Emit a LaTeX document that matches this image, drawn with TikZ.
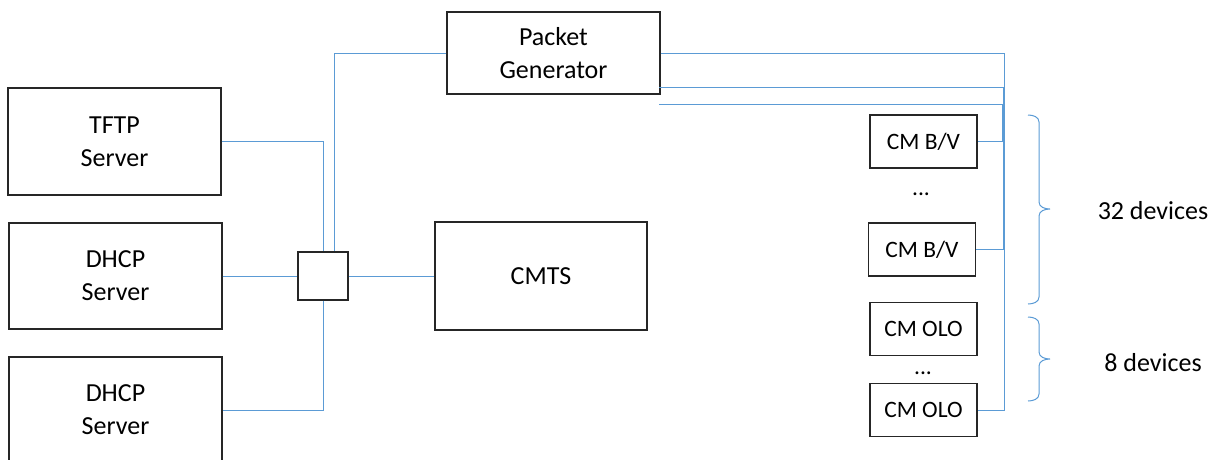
\documentclass[tikz,border=0pt]{standalone}
\usepackage{fontspec}
\setmainfont{Carlito}
\definecolor{lnk}{RGB}{91,155,213}
\begin{document}
\begin{tikzpicture}[x=1pt,y=-1pt,
 bigbox/.style={draw=black!85,line width=1.3pt,inner sep=0pt,font=\fontsize{26}{33}\selectfont,align=center},
 cmbox/.style={draw=black!85,line width=1.3pt,inner sep=0pt,minimum width=107pt,minimum height=53pt,font=\fontsize{23.5}{28}\selectfont},
 link/.style={draw=lnk,line width=1pt},
 lbl/.style={inner sep=0pt,font=\fontsize{26}{33}\selectfont}]
\useasboundingbox (0,0) rectangle (1219,459);
\clip (0,0) rectangle (1219,459);
% left column
\node[bigbox,minimum width=213pt,minimum height=107pt] (tftp) at (114.5,141.5) {TFTP\\Server};
\node[bigbox,minimum width=213pt,minimum height=106pt] (dhcpa) at (115.5,276) {DHCP\\Server};
\node[bigbox,minimum width=213pt,minimum height=106pt] (dhcpb) at (115.5,410) {DHCP\\Server};
% switch and CMTS
\node[bigbox,minimum width=50pt,minimum height=48pt] (sw) at (323,276) {};
\node[bigbox,minimum width=212pt,minimum height=108pt] (cmts) at (541,276) {CMTS};
\node[bigbox,minimum width=213pt,minimum height=82pt] (pg) at (553.5,53) {Packet\\Generator};
% cable modems
\node[cmbox] (bv1) at (923.5,141.5) {CM B/V};
\node[lbl,font=\fontsize{23.5}{28}\selectfont] (d1) at (921,194) {...};
\node[cmbox] (bv2) at (922,249.5) {CM B/V};
\node[cmbox] (olo1) at (923.5,329) {CM OLO};
\node[lbl,font=\fontsize{23.5}{28}\selectfont] (d2) at (923,373) {...};
\node[cmbox] (olo2) at (923.5,410) {CM OLO};
% labels
\node[lbl] (l32) at (1153,211) {32 devices};
\node[lbl] (l8) at (1153,363) {8 devices};
% connectors left
\draw[link] (tftp.east) -| (sw.north);
\draw[link] (pg.west) -| ([xshift=11pt]sw.north);
\draw[link] (dhcpa.east) -- (sw.west);
\draw[link] (sw.east) -- (cmts.west);
\draw[link] (sw.south) |- (dhcpb.east);
% connectors right
\coordinate (va) at (1004,0);
\coordinate (vb) at (1003,0);
\coordinate (vc) at (1002,0);
\coordinate (p2) at (659,87);
\coordinate (p3) at (659,104);
\draw[link] (pg.east) -- (pg.east -| va) |- (olo2.east);
\draw[link] (p2) -- (p2 -| vb) |- (bv2.east);
\draw[link] (p3) -- (p3 -| vc) |- (bv1.east);
% braces
\draw[link] (1028,115) to[out=0,in=90] (1039,122) -- (1039,202) to[out=-90,in=180] (1050,209)
  (1050,209) to[out=180,in=90] (1039,216) -- (1039,297) to[out=-90,in=0] (1028,304);
\draw[link] (1028,317) to[out=0,in=90] (1039,324) -- (1039,352) to[out=-90,in=180] (1050,359)
  (1050,359) to[out=180,in=90] (1039,366) -- (1039,394) to[out=-90,in=0] (1028,401);
\end{tikzpicture}
\end{document}
